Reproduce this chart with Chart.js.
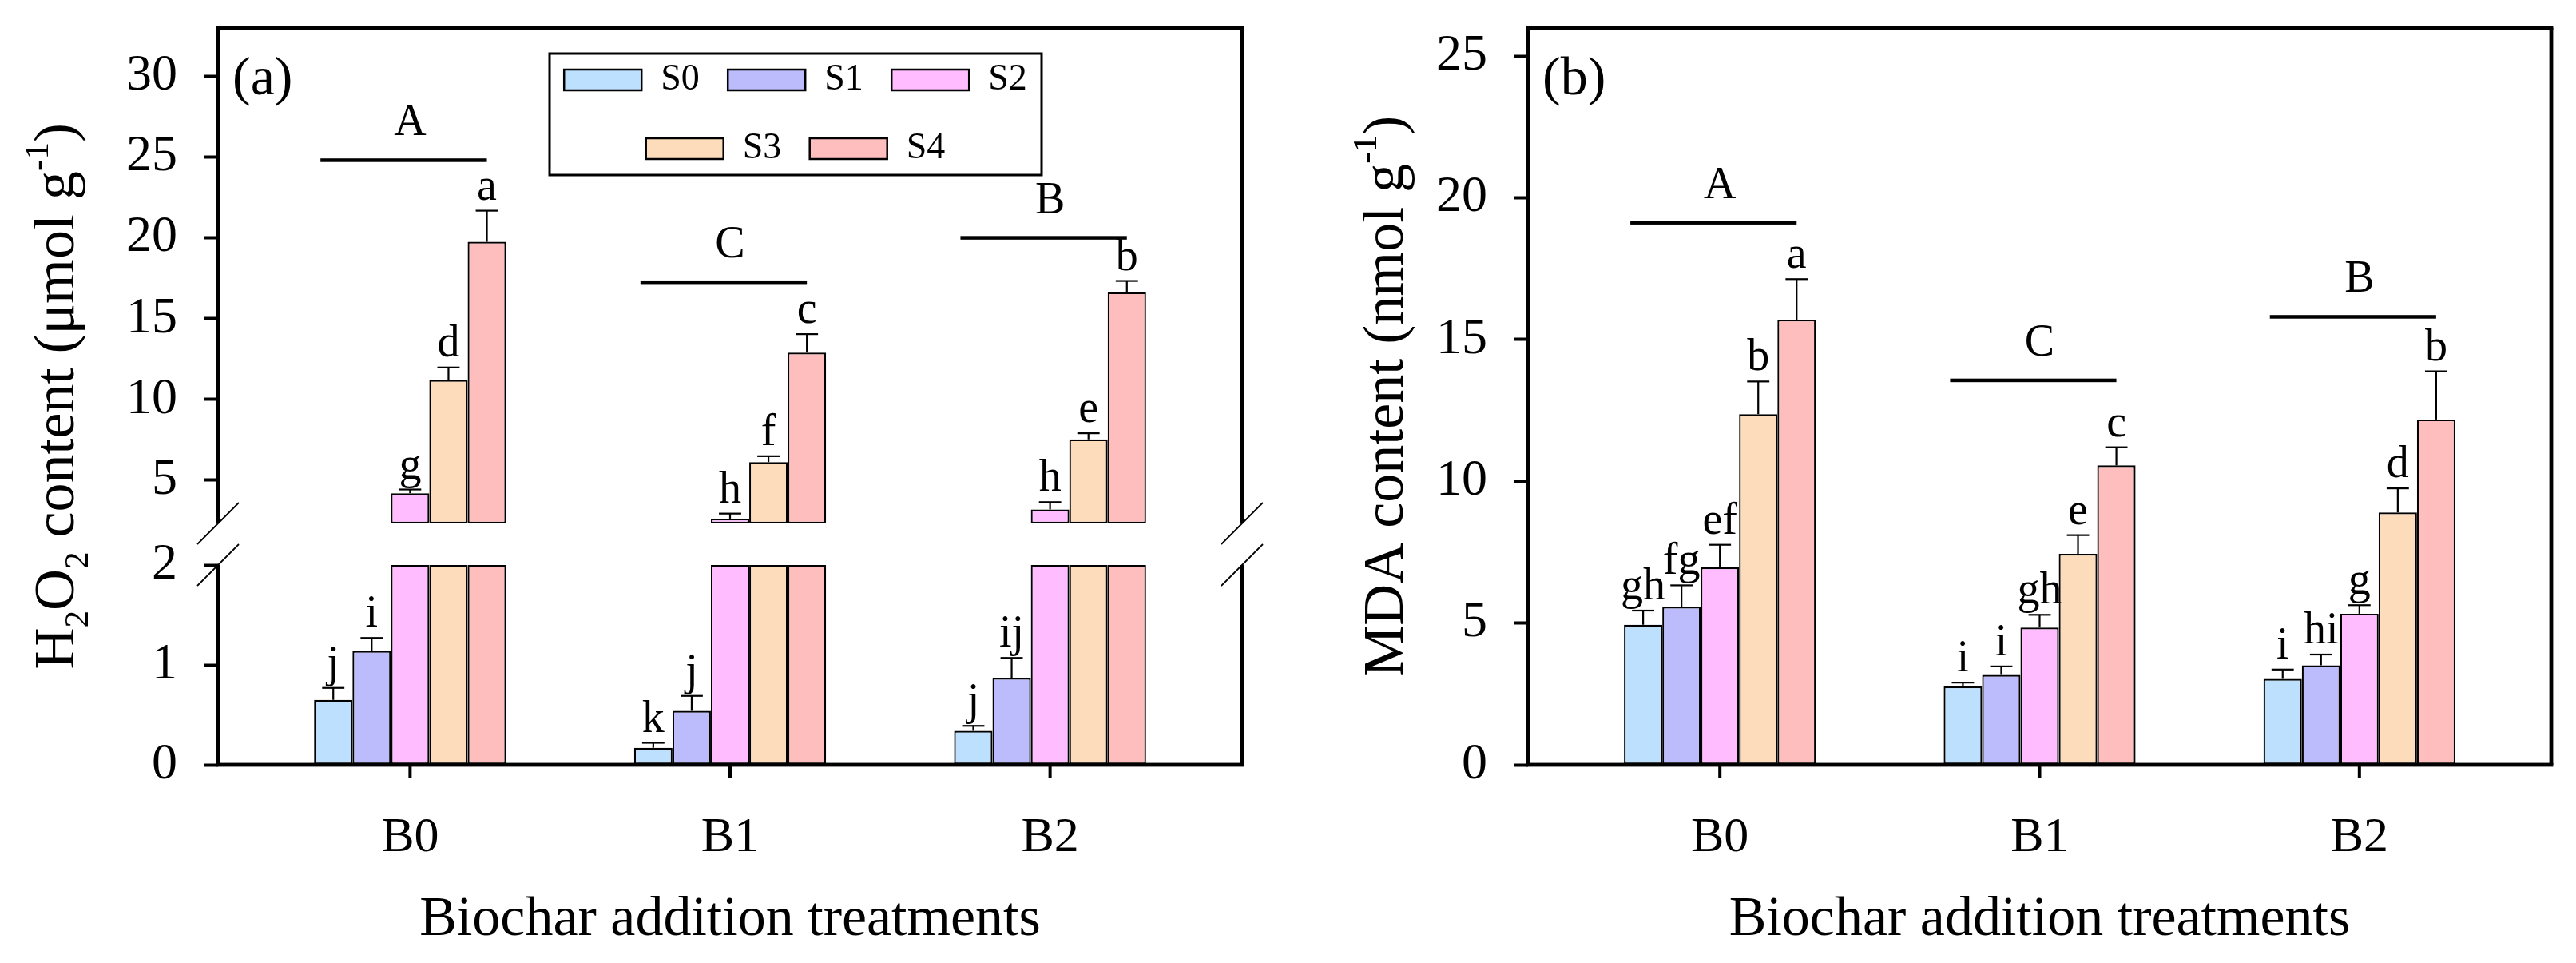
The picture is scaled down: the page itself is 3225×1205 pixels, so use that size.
<!DOCTYPE html>
<html>
<head>
<meta charset="utf-8">
<title>H2O2 and MDA content</title>
<script src="https://cdn.jsdelivr.net/npm/chart.js@4.4.1/dist/chart.umd.min.js"></script>
<style>
  html, body { margin: 0; padding: 0; background: #fff; }
  .panel { position: absolute; top: 0; }
</style>
</head>
<body>
<canvas id="chartH2O2" class="panel" width="1612" height="1205" style="left:0px"></canvas>
<canvas id="chartMDA" class="panel" width="1613" height="1205" style="left:1612px"></canvas>
<script>
var categories = ['B0', 'B1', 'B2'];
var seriesNames = ['S0', 'S1', 'S2', 'S3', 'S4'];
var seriesColors = ['#bee0ff', '#bcbcfc', '#ffbcff', '#fddcbc', '#ffbebe'];

// (a) H2O2 content (umol g-1), one array per salt level, ordered B0, B1, B2
var h2o2S0 = [0.65, 0.17, 0.34];
var h2o2S1 = [1.14, 0.54, 0.87];
var h2o2S2 = [4.2, 2.63, 3.2];
var h2o2S3 = [11.2, 6.13, 7.53];
var h2o2S4 = [19.75, 12.9, 16.63];
var h2o2ErrS0 = [0.12, 0.05, 0.05];
var h2o2ErrS1 = [0.13, 0.15, 0.2];
var h2o2ErrS2 = [0.23, 0.31, 0.45];
var h2o2ErrS3 = [0.78, 0.36, 0.38];
var h2o2ErrS4 = [1.93, 1.14, 0.7];
var h2o2LetterS0 = ['j', 'k', 'j'];
var h2o2LetterS1 = ['i', 'j', 'ij'];
var h2o2LetterS2 = ['g', 'h', 'h'];
var h2o2LetterS3 = ['d', 'f', 'e'];
var h2o2LetterS4 = ['a', 'c', 'b'];
var h2o2GroupLetters = ['A', 'C', 'B'];
var h2o2GroupLine = [24.8, 17.25, 20.0];
var h2o2TicksLow = [0, 1, 2];
var h2o2TicksHigh = [5, 10, 15, 20, 25, 30];

// (b) MDA content (nmol g-1)
var mdaS0 = [4.94, 2.76, 3.03];
var mdaS1 = [5.57, 3.17, 3.51];
var mdaS2 = [6.96, 4.84, 5.33];
var mdaS3 = [12.37, 7.44, 8.9];
var mdaS4 = [15.7, 10.56, 12.18];
var mdaErrS0 = [0.5, 0.14, 0.33];
var mdaErrS1 = [0.76, 0.3, 0.38];
var mdaErrS2 = [0.8, 0.45, 0.3];
var mdaErrS3 = [1.15, 0.66, 0.85];
var mdaErrS4 = [1.43, 0.64, 1.7];
var mdaLetterS0 = ['gh', 'i', 'i'];
var mdaLetterS1 = ['fg', 'i', 'hi'];
var mdaLetterS2 = ['ef', 'gh', 'g'];
var mdaLetterS3 = ['b', 'e', 'd'];
var mdaLetterS4 = ['a', 'c', 'b'];
var mdaGroupLetters = ['A', 'C', 'B'];
var mdaGroupLine = [19.12, 13.56, 15.8];
var mdaTicks = [0, 5, 10, 15, 20, 25];

var FONT = '"Liberation Serif", "Times New Roman", serif';
Chart.defaults.font.family = FONT;
Chart.defaults.color = '#000';

// axis break of panel (a): lower part ends at 2, upper part starts at 2.33
var h2o2Break = 2;
var h2o2LowMax = 2.416;
var h2o2HighMin = 2.33;
var h2o2HighMax = 33;

function drawRichVertical(ctx, parts, cx, cy, size) {
  ctx.save();
  ctx.translate(cx, cy);
  ctx.rotate(-Math.PI / 2);
  ctx.textAlign = 'left';
  ctx.textBaseline = 'alphabetic';
  var total = 0;
  parts.forEach(function(p) {
    ctx.font = (p[1] ? size * 0.6 : size) + 'px ' + FONT;
    total += ctx.measureText(p[0]).width;
  });
  var x = -total / 2;
  parts.forEach(function(p) {
    ctx.font = (p[1] ? size * 0.6 : size) + 'px ' + FONT;
    var dy = p[1] === 'sub' ? size * 0.25 : (p[1] === 'sup' ? -size * 0.45 : 0);
    ctx.fillText(p[0], x, dy);
    x += ctx.measureText(p[0]).width;
  });
  ctx.restore();
}

function seg(ctx, x1, y1, x2, y2) {
  ctx.beginPath();
  ctx.moveTo(x1, y1);
  ctx.lineTo(x2, y2);
  ctx.stroke();
}

// axis-aligned thick line as a filled box
function hbar(ctx, x1, x2, y, w) { ctx.fillRect(x1, y - w / 2, x2 - x1, w); }
function vbar(ctx, x, y1, y2, w) { ctx.fillRect(x - w / 2, Math.min(y1, y2), w, Math.abs(y2 - y1)); }

var decorPlugin = {
  id: 'decor',
  afterDraw: function(chart, args, o) {
    var ctx = chart.ctx;
    var area = chart.chartArea;
    var xs = chart.scales.x;
    var split = o.breakAt != null;
    var yLow = split ? chart.scales.yLow : chart.scales.y;
    var yHigh = split ? chart.scales.yHigh : chart.scales.y;
    ctx.save();
    ctx.setLineDash([]);
    ctx.globalAlpha = 1;
    ctx.lineCap = 'butt';
    ctx.strokeStyle = '#000';
    ctx.fillStyle = '#000';

    // error bars and letters above the bars
    o.values.forEach(function(vals, i) {
      vals.forEach(function(v, j) {
        var high = split && v > o.breakAt;
        var ys = high ? yHigh : yLow;
        var bar = chart.getDatasetMeta(high ? i + seriesNames.length : i).data[j];
        var yTop = ys.getPixelForValue(v + o.errors[i][j]);
        var cap = bar.width * 0.29;
        vbar(ctx, bar.x, ys.getPixelForValue(v), yTop, 2.2);
        hbar(ctx, bar.x - cap, bar.x + cap, yTop, 2.2);
        ctx.font = '56px ' + FONT;
        ctx.textAlign = 'center';
        ctx.textBaseline = 'alphabetic';
        ctx.fillText(o.letters[i][j], bar.x, yTop - 14);
      });
    });

    // group significance lines
    o.groupLetters.forEach(function(letter, j) {
      var y = yHigh.getPixelForValue(o.groupLine[j]);
      hbar(ctx, xs.getPixelForValue(j + 1 - 0.28), xs.getPixelForValue(j + 1 + 0.24), y, 4.5);
      ctx.font = '56px ' + FONT;
      ctx.textAlign = 'center';
      ctx.textBaseline = 'alphabetic';
      ctx.fillText(letter, xs.getPixelForValue(j + 1), y - 31);
    });

    // frame, broken on both sides when split
    var w = 4.8;
    hbar(ctx, area.left - w / 2, area.right + w / 2, area.top, w);
    hbar(ctx, area.left - w / 2, area.right + w / 2, area.bottom, w);
    [area.left, area.right].forEach(function(x) {
      if (split) {
        vbar(ctx, x, area.top, yHigh.getPixelForValue(yHigh.min), w);
        vbar(ctx, x, yLow.getPixelForValue(o.breakAt), area.bottom, w);
      } else {
        vbar(ctx, x, area.top, area.bottom, w);
      }
    });
    // category tick marks below the axis
    categories.forEach(function(c, j) {
      vbar(ctx, xs.getPixelForValue(j + 1), area.bottom, area.bottom + 17, 4);
    });
    if (split) {
      ctx.lineWidth = 1.8;
      [area.left, area.right].forEach(function(x) {
        [yHigh.getPixelForValue(yHigh.min), yLow.getPixelForValue(o.breakAt)].forEach(function(y) {
          seg(ctx, x - 26, y + 26, x + 26, y - 26);
        });
      });
    }

    // panel tag
    ctx.font = '68px ' + FONT;
    ctx.textAlign = 'left';
    ctx.textBaseline = 'middle';
    ctx.fillText(o.tag, area.left + 18, area.top + 66);

    // legend box
    if (o.legend) {
      var lx = area.left + 415, ly = area.top + 32.4, lw = 616, lh = 152;
      ctx.lineWidth = 3;
      ctx.strokeRect(lx, ly, lw, lh);
      ctx.font = '46px ' + FONT;
      ctx.textBaseline = 'middle';
      [[0, 1, 2], [3, 4]].forEach(function(row, r) {
        var cy = ly + 33 + r * 86;
        var pitch = 205, sw = 97, sh = 26, gap = 24;
        var rowW = (row.length - 1) * pitch + sw + gap + ctx.measureText(seriesNames[row[row.length - 1]]).width;
        var x0 = lx + (lw - rowW) / 2;
        row.forEach(function(s, k) {
          var x = x0 + k * pitch;
          ctx.fillStyle = seriesColors[s];
          ctx.fillRect(x, cy - sh / 2, sw, sh);
          ctx.lineWidth = 2.5;
          ctx.strokeRect(x, cy - sh / 2, sw, sh);
          ctx.fillStyle = '#000';
          ctx.fillText(seriesNames[s], x + sw + gap, cy);
        });
      });
    }

    drawRichVertical(ctx, o.yTitle, area.left - o.yTitleGap, (area.top + area.bottom) / 2, 72);
    ctx.restore();
  }
};

function valueAxis(ticks, min, max, width, extra) {
  return Object.assign({
    type: 'linear',
    position: 'left',
    min: min,
    max: max,
    border: { display: false },
    grid: { display: true, offset: false, drawOnChartArea: false, drawTicks: true, tickLength: 18, tickWidth: 4, tickColor: '#000' },
    ticks: { font: { size: 64, lineHeight: 1 }, padding: 33, color: '#000' },
    afterBuildTicks: function(s) { s.ticks = ticks.map(function(v) { return { value: v }; }); },
    afterFit: function(s) {
      s.width = width;
      s.paddingTop = 0;
      s.paddingBottom = 0;
    }
  }, extra || {});
}

function categoryAxis() {
  return {
    type: 'linear',
    min: 0.4,
    max: 3.6,
    offset: false,
    border: { display: false },
    grid: { display: false },
    ticks: {
      font: { size: 62, lineHeight: 1 }, padding: 53, maxRotation: 0, autoSkip: false,
      callback: function(v) { return categories[v - 1]; }
    },
    afterBuildTicks: function(s) { s.ticks = categories.map(function(c, i) { return { value: i + 1 }; }); },
    afterFit: function(s) {
      s.height = 248;
      s.paddingLeft = 0;
      s.paddingRight = 0;
    },
    title: { display: true, text: 'Biochar addition treatments', font: { size: 70, lineHeight: 1 }, padding: { top: 0, bottom: 18.5 } }
  };
}

function barSet(name, i, points, axisId) {
  return {
    label: name,
    data: points,
    yAxisID: axisId,
    stack: 's' + i,
    backgroundColor: seriesColors[i],
    borderColor: '#000',
    borderWidth: 2.2,
    borderSkipped: false,
    categoryPercentage: 0.6,
    barPercentage: 1.0
  };
}

// panel (a): each series drawn twice, once on each side of the break
var h2o2Values = [h2o2S0, h2o2S1, h2o2S2, h2o2S3, h2o2S4];
var h2o2Sets = [];
h2o2Values.forEach(function(vals, i) {
  h2o2Sets.push(barSet(seriesNames[i], i, vals.map(function(v, j) {
    return { x: j + 1, y: Math.min(v, h2o2Break) };
  }), 'yLow'));
});
h2o2Values.forEach(function(vals, i) {
  h2o2Sets.push(barSet(seriesNames[i], i, vals.map(function(v, j) {
    return { x: j + 1, y: v > h2o2HighMin ? [h2o2HighMin, v] : null };
  }), 'yHigh'));
});

new Chart(document.getElementById('chartH2O2'), {
  type: 'bar',
  data: { datasets: h2o2Sets },
  options: {
    responsive: false,
    animation: false,
    devicePixelRatio: 1,
    layout: { padding: { top: 34.6, right: 57, bottom: 0, left: 0 } },
    scales: {
      x: categoryAxis(),
      yLow: valueAxis(h2o2TicksLow, 0, h2o2LowMax, 273, { stack: 'h2o2', stackWeight: 302 }),
      yHigh: valueAxis(h2o2TicksHigh, h2o2HighMin, h2o2HighMax, 273, { stack: 'h2o2', stackWeight: 620.4 })
    },
    plugins: {
      legend: { display: false },
      tooltip: { enabled: false },
      decor: {
        breakAt: h2o2Break,
        values: h2o2Values,
        errors: [h2o2ErrS0, h2o2ErrS1, h2o2ErrS2, h2o2ErrS3, h2o2ErrS4],
        letters: [h2o2LetterS0, h2o2LetterS1, h2o2LetterS2, h2o2LetterS3, h2o2LetterS4],
        groupLetters: h2o2GroupLetters,
        groupLine: h2o2GroupLine,
        tag: '(a)',
        legend: true,
        yTitleGap: 181,
        yTitle: [['H'], ['2', 'sub'], ['O'], ['2', 'sub'], [' content (\u03bcmol g'], ['-1', 'sup'], [')']]
      }
    }
  },
  plugins: [decorPlugin]
});

// panel (b)
var mdaValues = [mdaS0, mdaS1, mdaS2, mdaS3, mdaS4];
var mdaSets = mdaValues.map(function(vals, i) {
  return barSet(seriesNames[i], i, vals.map(function(v, j) { return { x: j + 1, y: v }; }), 'y');
});

new Chart(document.getElementById('chartMDA'), {
  type: 'bar',
  data: { datasets: mdaSets },
  options: {
    responsive: false,
    animation: false,
    devicePixelRatio: 1,
    layout: { padding: { top: 34.6, right: 31, bottom: 0, left: 0 } },
    scales: {
      x: categoryAxis(),
      y: valueAxis(mdaTicks, 0, 26, 301)
    },
    plugins: {
      legend: { display: false },
      tooltip: { enabled: false },
      decor: {
        breakAt: null,
        values: mdaValues,
        errors: [mdaErrS0, mdaErrS1, mdaErrS2, mdaErrS3, mdaErrS4],
        letters: [mdaLetterS0, mdaLetterS1, mdaLetterS2, mdaLetterS3, mdaLetterS4],
        groupLetters: mdaGroupLetters,
        groupLine: mdaGroupLine,
        tag: '(b)',
        legend: false,
        yTitleGap: 157.5,
        yTitle: [['MDA content (nmol g'], ['-1', 'sup'], [')']]
      }
    }
  },
  plugins: [decorPlugin]
});
</script>
</body>
</html>
